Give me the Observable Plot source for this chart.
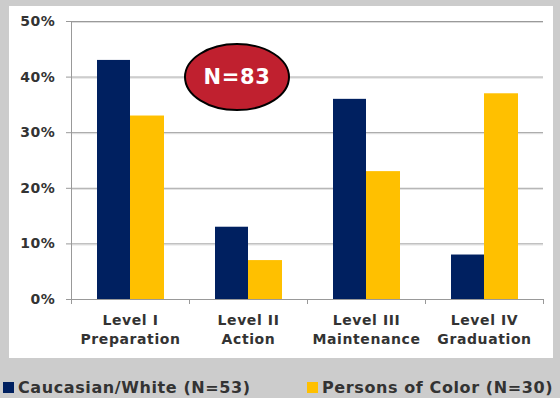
<!DOCTYPE html>
<html>
<head>
<meta charset="utf-8">
<script src="https://cdn.jsdelivr.net/npm/d3@7"></script>
<script src="https://cdn.jsdelivr.net/npm/@observablehq/plot@0.6"></script>
<style>
  html, body { margin: 0; padding: 0; }
  body { width: 560px; height: 398px; background: #cccccc; position: relative; overflow: hidden;
         font-family: "DejaVu Sans", Verdana, sans-serif; }
  #panel { position: absolute; left: 9px; top: 6px; width: 544px; height: 352px; background: #ffffff; }
  #panel svg text { letter-spacing: 0.6px; }
  .legend { position: absolute; top: 378px; left: 0; width: 560px; height: 20px; font-size: 16px;
            font-weight: bold; color: #333; letter-spacing: 0.6px; }
  .item { position: absolute; top: 0; display: flex; align-items: center; white-space: nowrap; }
  .sw { width: 11px; height: 11px; margin-right: 4px; }
</style>
</head>
<body>
<div id="panel"></div>
<div class="legend" id="legend"></div>
<script>
// ---- data ----
const levels = ["Level I", "Level II", "Level III", "Level IV"];
const stages = ["Preparation", "Action", "Maintenance", "Graduation"];
const seriesNames = ["Caucasian/White (N=53)", "Persons of Color (N=30)"];
const caucasianWhite = [43, 13, 36, 8];
const personsOfColor = [33, 7, 23, 37];
const yTicks = [0, 10, 20, 30, 40, 50];
const annotationLabel = ["N=83"];
const annotationLevel = ["Level II"];
const annotationValue = [40];

const colors = ["#002060", "#FFC000"];

const categories = levels.map((l, i) => l + "\n" + stages[i]);
const rows = [];
levels.forEach((l, i) => {
  rows.push({cat: categories[i], series: seriesNames[0], value: caucasianWhite[i]});
  rows.push({cat: categories[i], series: seriesNames[1], value: personsOfColor[i]});
});
const annotations = annotationLabel.map((t, i) => ({
  label: t, cat: categories[levels.indexOf(annotationLevel[i])], value: annotationValue[i]
}));

// ellipse symbol for annotation
const RX = 52, RY = 33, K = 0.5523;
const ellipseSymbol = {
  draw(ctx) {
    ctx.moveTo(RX, 0);
    ctx.bezierCurveTo(RX, K * RY, K * RX, RY, 0, RY);
    ctx.bezierCurveTo(-K * RX, RY, -RX, K * RY, -RX, 0);
    ctx.bezierCurveTo(-RX, -K * RY, -K * RX, -RY, 0, -RY);
    ctx.bezierCurveTo(K * RX, -RY, RX, -K * RY, RX, 0);
    ctx.closePath();
  }
};

// axis line + category boundary ticks
const decor = (index, scales, values, dims) => {
  const x = scales.x, y = scales.y;
  const bw = x.bandwidth ? x.bandwidth() : (dims.width - dims.marginLeft - dims.marginRight) / categories.length;
  const xs = categories.map(c => x(c));
  xs.push(xs[xs.length - 1] + bw);
  const y0 = y(0), y1 = y(yTicks[yTicks.length - 1]);
  const g = d3.create("svg:g").attr("stroke", "#999").attr("stroke-width", 1);
  g.append("line").attr("x1", xs[0] + 0.5).attr("x2", xs[0] + 0.5).attr("y1", y1).attr("y2", y0 + 5);
  g.append("line").attr("x1", xs[0]).attr("x2", xs[xs.length - 1]).attr("y1", y0 + 0.5).attr("y2", y0 + 0.5);
  for (const xi of xs) {
    g.append("line").attr("x1", xi + 0.5).attr("x2", xi + 0.5).attr("y1", y0).attr("y2", y0 + 5);
  }
  return g.node();
};

const chart = Plot.plot({
  width: 544,
  height: 352,
  marginLeft: 62,
  marginRight: 10,
  marginTop: 15,
  marginBottom: 59,
  style: {fontFamily: "'DejaVu Sans', Verdana, sans-serif", fontSize: "14px", fontWeight: "bold", color: "#333", background: "#fff"},
  x: {domain: categories, padding: 0, label: null},
  y: {domain: [0, 50], label: null},
  color: {domain: seriesNames, range: colors},
  marks: [
    Plot.gridY(yTicks, {stroke: "#9a9a9a", strokeOpacity: 1}),
    Plot.gridY(yTicks.slice(1), {stroke: "#dcdcdc", strokeOpacity: 1, dy: 1}),
    Plot.axisY(yTicks, {tickFormat: d => d + "%", tickSize: 5, tickPadding: 11, stroke: "#999", fontSize: 14, fill: "#333"}),
    Plot.axisX({tickSize: 0, tickPadding: 12, lineHeight: 1.36, fontSize: 14, fill: "#333"}),
    Plot.barY(rows.filter(d => d.series === seriesNames[0]), {x: "cat", y: "value", fill: "series", insetLeft: 26, insetRight: 59}),
    Plot.barY(rows.filter(d => d.series === seriesNames[1]), {x: "cat", y: "value", fill: "series", insetLeft: 59, insetRight: 25}),
    decor,
    Plot.dot(annotations, {x: "cat", y: "value", dx: -11.5, symbol: ellipseSymbol, fill: "#C0202F", stroke: "#000", strokeWidth: 2}),
    Plot.text(annotations, {x: "cat", y: "value", dx: -11.5, text: "label", fill: "#fff", fontSize: 21, fontWeight: "bold"})
  ]
});
document.getElementById("panel").appendChild(chart);

// legend
const legend = document.getElementById("legend");
const lefts = [3, 307];
seriesNames.forEach((name, i) => {
  const item = document.createElement("div");
  item.className = "item";
  item.style.left = lefts[i] + "px";
  const sw = document.createElement("span");
  sw.className = "sw";
  sw.style.background = colors[i];
  const tx = document.createElement("span");
  tx.textContent = name;
  item.appendChild(sw);
  item.appendChild(tx);
  legend.appendChild(item);
});
</script>
</body>
</html>
